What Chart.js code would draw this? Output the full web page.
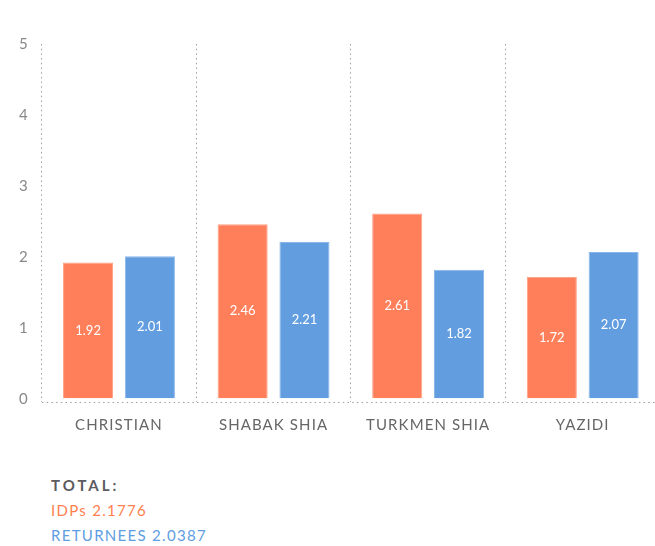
<!DOCTYPE html>
<html>
<head>
<meta charset="utf-8">
<script src="https://cdn.jsdelivr.net/npm/chart.js@4"></script>
<style>
  html, body { margin: 0; padding: 0; background: #fff; overflow: hidden; width: 655px; height: 546px; }
  #wrap { position: absolute; left: 0; top: 0; width: 662px; height: 455px; }
  #totals { position: absolute; left: 51px; top: 473px; font-family: Lato, "Open Sans", sans-serif; font-size: 15px; line-height: 25px; }
  #totals .t { color: #5b5b60; font-weight: bold; letter-spacing: 3px; }
  #totals .i { color: #FF7F4F; letter-spacing: 1.3px; }
  #totals .r { color: #5E9DE2; letter-spacing: 1.3px; }
</style>
</head>
<body>
<div id="wrap"><canvas id="c"></canvas></div>
<div id="totals">
  <div class="t">TOTAL:</div>
  <div class="i">IDPs 2.1776</div>
  <div class="r">RETURNEES 2.0387</div>
</div>
<script>
const categories = ["CHRISTIAN", "SHABAK SHIA", "TURKMEN SHIA", "YAZIDI"];
const idps = [1.92, 2.46, 2.61, 1.72];
const returnees = [2.01, 2.21, 1.82, 2.07];
const yTicks = [0, 1, 2, 3, 4, 5];
const yAxisMin = -0.045;

const barLabels = {
  id: 'barLabels',
  afterDatasetsDraw(chart) {
    const ctx = chart.ctx;
    ctx.save();
    ctx.letterSpacing = '0px';
    ctx.font = '13px Lato, "Open Sans", sans-serif';
    ctx.fillStyle = '#ffffff';
    ctx.textAlign = 'center';
    ctx.textBaseline = 'middle';
    chart.data.datasets.forEach((ds, di) => {
      chart.getDatasetMeta(di).data.forEach((el, i) => {
        const y = (el.y + el.base) / 2;
        ctx.fillText(ds.data[i].toFixed(2), el.x, y);
      });
    });
    ctx.restore();
  }
};

const spacing = {
  id: 'spacing',
  beforeDraw(chart) { chart.ctx.letterSpacing = '1.1px'; }
};

new Chart(document.getElementById('c'), {
  type: 'bar',
  data: {
    labels: categories,
    datasets: [
      { label: 'IDPs', data: idps, backgroundColor: '#FF7F5A', borderColor: '#FF9F82', borderWidth: 1 },
      { label: 'RETURNEES', data: returnees, backgroundColor: '#629DE0', borderColor: '#8AB7EA', borderWidth: 1 }
    ]
  },
  options: {
    responsive: true,
    maintainAspectRatio: false,
    animation: false,
    layout: { padding: { top: 44, right: 2, left: 7, bottom: 7 } },
    datasets: { bar: { categoryPercentage: 0.8, barPercentage: 0.81 } },
    plugins: { legend: { display: false }, tooltip: { enabled: false } },
    scales: {
      x: {
        grid: { display: true, offset: true, drawTicks: false, color: '#a0a0a0', lineWidth: 1 },
        border: { display: false, dash: [1.5, 3.2] },
        ticks: { color: '#666', padding: 14, font: { family: 'Lato, "Open Sans", sans-serif', size: 15 } }
      },
      y: {
        min: yAxisMin, max: 5,
        afterBuildTicks(scale) { scale.ticks = [yAxisMin].concat(yTicks).map(v => ({ value: v })); },
        grid: { display: true, drawTicks: false, color: (c) => (c.tick && c.tick.value === yAxisMin) ? '#a0a0a0' : 'rgba(0,0,0,0)' },
        border: { display: false, dash: [1.5, 3.2] },
        ticks: {
          color: '#888', padding: 13,
          callback: (v) => (v === yAxisMin ? '' : String(v)),
          font: { family: 'Lato, "Open Sans", sans-serif', size: 15 }
        }
      }
    }
  },
  plugins: [barLabels, spacing]
});
</script>
</body>
</html>
